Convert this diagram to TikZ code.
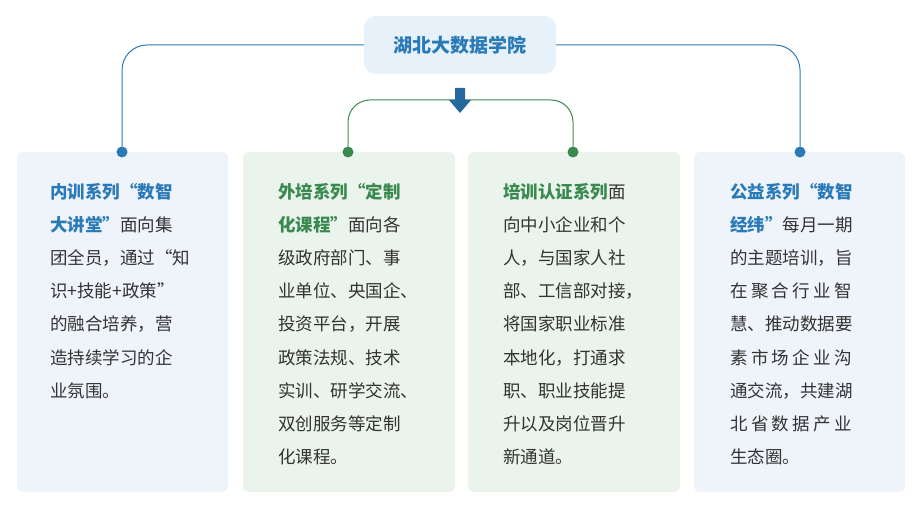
\documentclass[tikz,border=0pt]{standalone}
\usepackage{fontspec}
\setmainfont{Noto Sans CJK SC}
\begin{document}
\begin{tikzpicture}[x=1pt,y=-1pt,
  card/.style={rounded corners=6pt,draw=none},
  ln/.style={anchor=base west,inner sep=0pt,font=\fontsize{17.5}{17.5}\selectfont,text=black!80},
  dot/.style={circle,inner sep=0pt,minimum size=11pt}]
\definecolor{hb}{HTML}{2A7AB8}\definecolor{hg}{HTML}{3A8A50}
\definecolor{bb}{HTML}{EEF4FA}\definecolor{gb}{HTML}{EAF3EC}
\definecolor{tb}{HTML}{E6F1F9}
\useasboundingbox (0,0) rectangle (924,529);
\fill[bb,card] (17,152) rectangle (228,492);
\fill[gb,card] (243,152) rectangle (455,492);
\fill[gb,card] (468,152) rectangle (680,492);
\fill[bb,card] (694,152) rectangle (905,492);
\node[fill=tb,rounded corners=12pt,minimum width=192pt,minimum height=58pt,font=\fontsize{19}{19}\selectfont\bfseries,text=hb] (t) at (460,45) {湖北大数据学院};
\node[dot,fill=hb] (d1) at (122,152) {};
\node[dot,fill=hg] (d2) at (348,152) {};
\node[dot,fill=hg] (d3) at (573,152) {};
\node[dot,fill=hb] (d4) at (800,152) {};
\draw[hb,line width=1pt,rounded corners=25pt] (t.west) -- (122,45) -- (d1);
\draw[hb,line width=1pt,rounded corners=25pt] (t.east) -- (800,45) -- (d4);
\draw[hg,line width=1pt,rounded corners=22pt] (d2) -- (348,100) -- (573,100) -- (d3);
\fill[hb!85!black] (455,88) -- (465,88) -- (465,100) -- (471,100) -- (460,113) -- (449,100) -- (455,100) -- cycle;
% card 1
\foreach \t [count=\i] in {{\textbf{\color{hb}内训系列“数智}},{\textbf{\color{hb}大讲堂”}面向集},{团全员，通过“知},{识+技能+政策”},{的融合培养，营},{造持续学习的企},{业氛围。}}
  \node[ln] (a\i) at (50,199+33*\i-33) {\t};
% card 2
\foreach \t [count=\i] in {{\textbf{\color{hg}外培系列“定制}},{\textbf{\color{hg}化课程”}面向各},{级政府部门、事},{业单位、央国企、},{投资平台，开展},{政策法规、技术},{实训、研学交流、},{双创服务等定制},{化课程。}}
  \node[ln] (b\i) at (278,199+33*\i-33) {\t};
% card 3
\foreach \t [count=\i] in {{\textbf{\color{hg}培训认证系列}面},{向中小企业和个},{人，与国家人社},{部、工信部对接，},{将国家职业标准},{本地化，打通求},{职、职业技能提},{升以及岗位晋升},{新通道。}}
  \node[ln] (c\i) at (503,199+33*\i-33) {\t};
% card 4
\foreach \t [count=\i] in {{\textbf{\color{hb}公益系列“数智}},{\textbf{\color{hb}经纬”}每月一期},{的主题培训，旨},{\makebox[122pt][l]{在\hfill 聚\hfill 合\hfill 行\hfill 业\hfill 智}},{慧、推动数据要},{\makebox[122pt][l]{素\hfill 市\hfill 场\hfill 企\hfill 业\hfill 沟}},{通交流，共建湖},{\makebox[122pt][l]{北\hfill 省\hfill 数\hfill 据\hfill 产\hfill 业}},{生态圈。}}
  \node[ln] (e\i) at (730,199+33*\i-33) {\t};
\end{tikzpicture}
\end{document}
